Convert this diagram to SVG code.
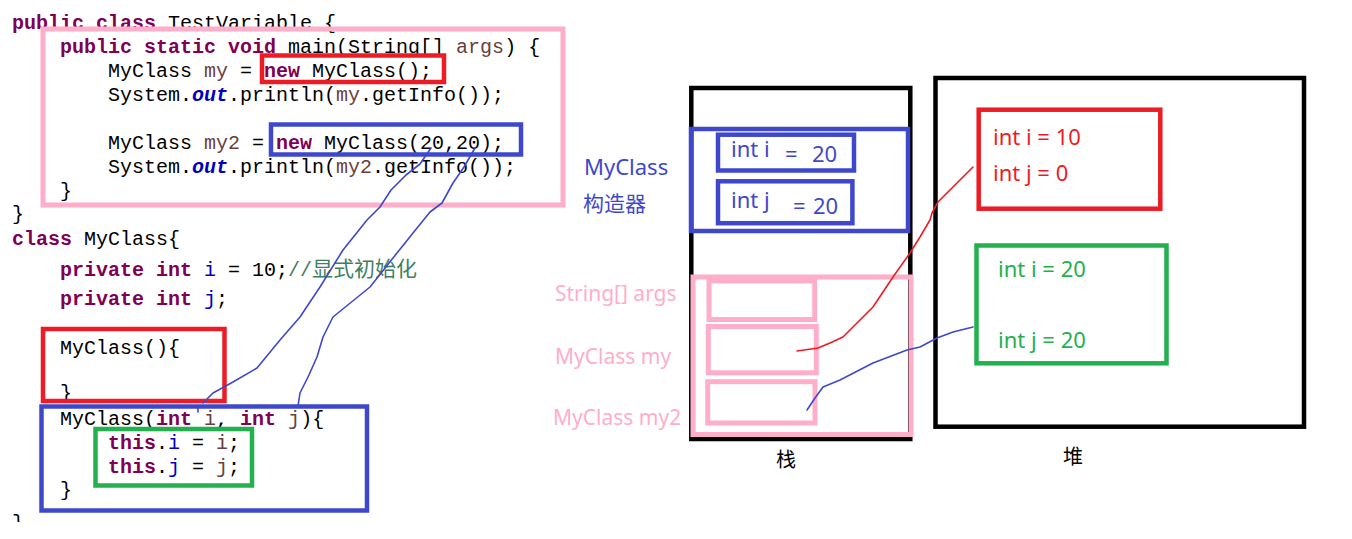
<svg xmlns="http://www.w3.org/2000/svg" width="1352" height="539" viewBox="0 0 1352 539">
<defs>
<style>
.c{font-family:"Liberation Mono","DejaVu Sans Mono",monospace;font-size:20px;fill:#000;white-space:pre}
.k{fill:#7F0055;font-weight:bold}
.v{fill:#6A3E3E}
.f{fill:#0000C0}
.o{fill:#0000C0;font-weight:bold;font-style:italic}
.cm{fill:#3F7F5F}
.cmz{fill:#3F7F5F;font-family:"Noto Sans CJK SC",sans-serif;font-size:21px}
.s{font-family:"Noto Sans","Noto Sans CJK SC",sans-serif;font-size:22px;white-space:pre}
.cj{font-family:"Noto Sans CJK SC",sans-serif;font-size:20px;fill:#000}
.box{fill:none}
.pk{stroke:#FFAEC9;stroke-width:5}
.rd{stroke:#ED1C24;stroke-width:4.5}
.bl{stroke:#3F48CC;stroke-width:4.5}
.gr{stroke:#22B14C;stroke-width:4.5}
.bk{stroke:#000;stroke-width:4.5}
.ln{fill:none;stroke-width:1.6;stroke-linejoin:round;stroke-linecap:round}
</style>
<clipPath id="cut"><rect x="0" y="500" width="40" height="22"/></clipPath>
</defs>
<rect width="1352" height="539" fill="#fff"/>

<g id="code-text" class="c">
<text x="12" y="29"><tspan class="k">public</tspan> <tspan class="k">class</tspan> TestVariable {</text>
<text x="60" y="53"><tspan class="k">public</tspan> <tspan class="k">static</tspan> <tspan class="k">void</tspan> main(String[] <tspan class="v">args</tspan>) {</text>
<text x="108" y="77">MyClass <tspan class="v">my</tspan> = <tspan class="k">new</tspan> MyClass();</text>
<text x="108" y="101">System.<tspan class="o">out</tspan>.println(<tspan class="v">my</tspan>.getInfo());</text>
<text x="108" y="149">MyClass <tspan class="v">my2</tspan> = <tspan class="k">new</tspan> MyClass(20,20);</text>
<text x="108" y="173">System.<tspan class="o">out</tspan>.println(<tspan class="v">my2</tspan>.getInfo());</text>
<text x="60" y="197">}</text>
<text x="12" y="220">}</text>
<text x="12" y="245"><tspan class="k">class</tspan> MyClass{</text>
<text x="60" y="276"><tspan class="k">private</tspan> <tspan class="k">int</tspan> <tspan class="f">i</tspan> = 10;<tspan class="cm">//</tspan><tspan class="cmz">显式初始化</tspan></text>
<text x="60" y="305"><tspan class="k">private</tspan> <tspan class="k">int</tspan> <tspan class="f">j</tspan>;</text>
<text x="60" y="354">MyClass(){</text>
<text x="60" y="399">}</text>
<text x="60" y="425">MyClass(<tspan class="k">int</tspan> <tspan class="v">i</tspan>, <tspan class="k">int</tspan> <tspan class="v">j</tspan>){</text>
<text x="108" y="449"><tspan class="k">this</tspan>.<tspan class="f">i</tspan> = <tspan class="v">i</tspan>;</text>
<text x="108" y="473"><tspan class="k">this</tspan>.<tspan class="f">j</tspan> = <tspan class="v">j</tspan>;</text>
<text x="60" y="496">}</text>
<text x="12" y="529" clip-path="url(#cut)">}</text>
</g>

<g id="main-box"><rect class="box pk" x="43" y="29" width="520" height="176"/></g>
<g id="new-myclass-box"><rect class="box rd" x="262" y="55.5" width="182" height="26.5"/></g>
<g id="new-myclass2-box"><rect class="box bl" x="271" y="124.5" width="250" height="30"/></g>
<g id="ctor-default-box"><rect class="box rd" x="43" y="329" width="181.5" height="72"/></g>
<g id="ctor-params-box"><rect class="box bl" x="41.5" y="406.5" width="325.5" height="104"/></g>
<g id="assign-box"><rect class="box gr" x="95.5" y="429" width="156.5" height="56.5"/></g>

<g id="stack">
<rect class="box bk" x="691.3" y="88" width="219" height="351"/>
<text class="cj" x="776" y="467">栈</text>
</g>
<g id="ctor-frame">
<rect class="box bl" x="691" y="129" width="217" height="102"/>
<rect class="box bl" x="718" y="134.7" width="136" height="35.8"/>
<rect class="box bl" x="718" y="181.3" width="134.4" height="41.9"/>
<text class="s" x="731" y="157" fill="#3F48CC">int i</text>
<text class="s" x="785" y="162" fill="#3F48CC">=</text>
<text class="s" x="812" y="162" fill="#3F48CC">20</text>
<text class="s" x="731" y="208" fill="#3F48CC">int j</text>
<text class="s" x="793" y="214" fill="#3F48CC">=</text>
<text class="s" x="813" y="214" fill="#3F48CC">20</text>
<text class="s" x="584" y="175" fill="#3F48CC">MyClass</text>
<text class="s" x="583" y="211" fill="#3F48CC" style="font-size:21px">构造器</text>
</g>
<g id="main-frame">
<rect class="box pk" x="693" y="277" width="218" height="157.5"/>
<rect class="box pk" x="709" y="281" width="105.7" height="38.5"/>
<rect class="box pk" x="708.3" y="326.5" width="108" height="46.3"/>
<rect class="box pk" x="707.7" y="381.7" width="107.3" height="41.3"/>
<text class="s" x="555" y="301" fill="#FFAEC9" style="font-size:21px">String[] args</text>
<text class="s" x="555" y="364" fill="#FFAEC9" style="font-size:21px">MyClass my</text>
<text class="s" x="553" y="425" fill="#FFAEC9" style="font-size:21px">MyClass my2</text>
</g>

<g id="heap">
<rect class="box bk" x="935.5" y="78" width="368.5" height="348.7"/>
<text class="cj" x="1063" y="464">堆</text>
</g>
<g id="obj-my">
<rect class="box rd" x="978.7" y="109.7" width="181.6" height="99"/>
<text class="s" x="993" y="145" fill="#ED1C24">int i = 10</text>
<text class="s" x="993" y="181" fill="#ED1C24">int j = 0</text>
</g>
<g id="obj-my2">
<rect class="box gr" x="976.5" y="245.5" width="190" height="117.8"/>
<text class="s" x="998" y="277" fill="#22B14C">int i = 20</text>
<text class="s" x="998" y="348" fill="#22B14C">int j = 20</text>
</g>

<g id="connectors">
<polyline class="ln" stroke="#3F48CC" points="431,148 420,164 406,175 391,190 380,207 367,220 343,250 320,287 300,317 280,340 257,368 233,382 213,393 203,403"/>
<line class="ln" stroke="#3F48CC" x1="198" y1="408" x2="198" y2="412"/>
<polyline class="ln" stroke="#3F48CC" points="475,148 464,167 453,183 442,203 430,212 413,233 397,253 370,287 333,317 323,337 317,357 308,377 300,393 298,406"/>
<polyline class="ln" stroke="#ED1C24" points="797,351 818,348 830,343 843,337 860,320 873,307 893,277 910,253 920,237 930,220 932,213 938,202 953,187 973,167"/>
<polyline class="ln" stroke="#3F48CC" points="807,410 815,398 823,387 840,380 873,363 907,350 920,347 937,338 953,332 973,327"/>
</g>
</svg>
